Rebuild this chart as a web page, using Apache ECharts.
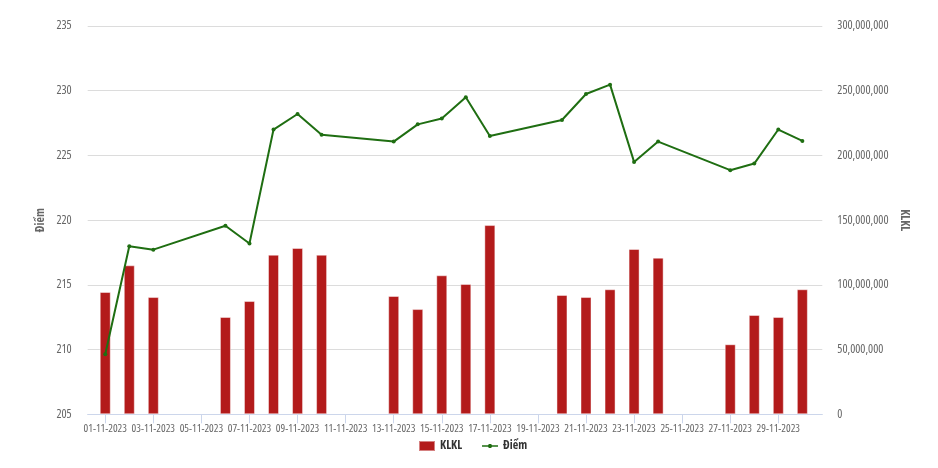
<!DOCTYPE html>
<html>
<head>
<meta charset="utf-8">
<script src="https://cdn.jsdelivr.net/npm/echarts@6/dist/echarts.min.js"></script>
<style>
html,body{margin:0;padding:0;background:#fff;}
#chart{width:938px;height:468px;}
</style>
</head>
<body>
<div id="chart"></div>
<script>
// Trading days (dd-mm-yyyy)
const dates = ['01-11-2023','02-11-2023','03-11-2023','06-11-2023','07-11-2023','08-11-2023','09-11-2023','10-11-2023',
  '13-11-2023','14-11-2023','15-11-2023','16-11-2023','17-11-2023','20-11-2023','21-11-2023','22-11-2023','23-11-2023','24-11-2023',
  '27-11-2023','28-11-2023','29-11-2023','30-11-2023'];
// Volume (KLKL)
const klkl = [94500000,115100000,90600000,75200000,87500000,123300000,128500000,123300000,
  91400000,81300000,107400000,100700000,146200000,92200000,90600000,96600000,127700000,121000000,
  54100000,76700000,75200000,96600000];
// Index points (Điểm)
const diem = [209.64,217.98,217.72,219.57,218.2,227.0,228.2,226.6,
  226.07,227.4,227.85,229.5,226.5,227.74,229.75,230.47,224.5,226.07,
  223.86,224.37,227.0,226.12];
// X tick labels
const tickLabels = ['01-11-2023','03-11-2023','05-11-2023','07-11-2023','09-11-2023','11-11-2023','13-11-2023',
  '15-11-2023','17-11-2023','19-11-2023','21-11-2023','23-11-2023','25-11-2023','27-11-2023','29-11-2023'];
const leftTicks = [205,210,215,220,225,230,235];
const rightTicks = [0,50000000,100000000,150000000,200000000,250000000,300000000];

const dayOf = s => parseInt(s.slice(0,2),10);
const tickDays = tickLabels.map(dayOf);
const labelByDay = {};
tickLabels.forEach(s => { labelByDay[dayOf(s)] = s; });

const FONT = "'Open Sans','Roboto',sans-serif";
const W = 'condensed';
const WB = 'bold condensed';
const LINE_ICON = 'path://M0,4.2 L17,4.2 L17,5.8 L0,5.8 Z M7.4,3 L9.6,3 L10.5,3.9 L10.5,6.1 L9.6,7 L7.4,7 L6.5,6.1 L6.5,3.9 Z';

const chart = echarts.init(document.getElementById('chart'), null, {renderer:'canvas'});
chart.setOption({
  animation:false,
  backgroundColor:'#fff',
  grid:{left:87.7, right:115.7, top:26, bottom:53.7, containLabel:false},
  legend:{
    left:418, top:440, padding:0,
    itemWidth:16, itemHeight:10, itemGap:20,
    textStyle:{fontFamily:FONT, fontSize:12, fontWeight:WB, color:'#333'},
    data:[{name:'KLKL', icon:'rect'},{name:'Điểm', icon:LINE_ICON, itemWidth:17}]
  },
  xAxis:{
    type:'value', min:0.27, max:30.83,
    axisLine:{show:true, lineStyle:{color:'#ccd6eb', width:1}},
    axisTick:{show:true, length:9, lineStyle:{color:'#ccd6eb'}, customValues:tickDays},
    axisLabel:{customValues:tickDays, formatter:v => labelByDay[Math.round(v)] || '',
      showMinLabel:true, showMaxLabel:true, hideOverlap:false,
      fontFamily:FONT, fontSize:11, fontWeight:W, color:'#666', margin:9},
    splitLine:{show:false}
  },
  yAxis:[
    {type:'value', min:leftTicks[0], max:leftTicks[leftTicks.length-1], interval:5,
     name:'Điểm', nameLocation:'middle', nameGap:41, nameMoveOverlap:false,
     nameTextStyle:{fontFamily:FONT, fontSize:12, fontWeight:WB, color:'#666'},
     axisLine:{show:false}, axisTick:{show:false},
     axisLabel:{fontFamily:FONT, fontSize:12, fontWeight:W, color:'#666', margin:16},
     splitLine:{lineStyle:{color:'#dcdcdc', width:1}}},
    {type:'value', min:rightTicks[0], max:rightTicks[rightTicks.length-1], interval:50000000,
     name:'KLKL', nameLocation:'middle', nameGap:76, nameRotate:-90, nameMoveOverlap:false,
     nameTextStyle:{fontFamily:FONT, fontSize:12, fontWeight:WB, color:'#666'},
     axisLine:{show:false}, axisTick:{show:false},
     axisLabel:{fontFamily:FONT, fontSize:12, fontWeight:W, color:'#666', margin:15,
       formatter:v => Number(v).toLocaleString('en-US')},
     splitLine:{show:false}}
  ],
  series:[
    {name:'KLKL', type:'bar', yAxisIndex:1, barWidth:11,
     itemStyle:{color:'#b31b1b', borderColor:'rgba(255,255,255,0.45)', borderWidth:1},
     data:dates.map((d,i)=>[dayOf(d), klkl[i]])},
    {name:'Điểm', type:'line', yAxisIndex:0,
     symbol:'circle', symbolSize:4, showSymbol:true,
     lineStyle:{color:'#1f6e12', width:2},
     itemStyle:{color:'#1f6e12'},
     data:dates.map((d,i)=>[dayOf(d), diem[i]])}
  ]
});
</script>
</body>
</html>
